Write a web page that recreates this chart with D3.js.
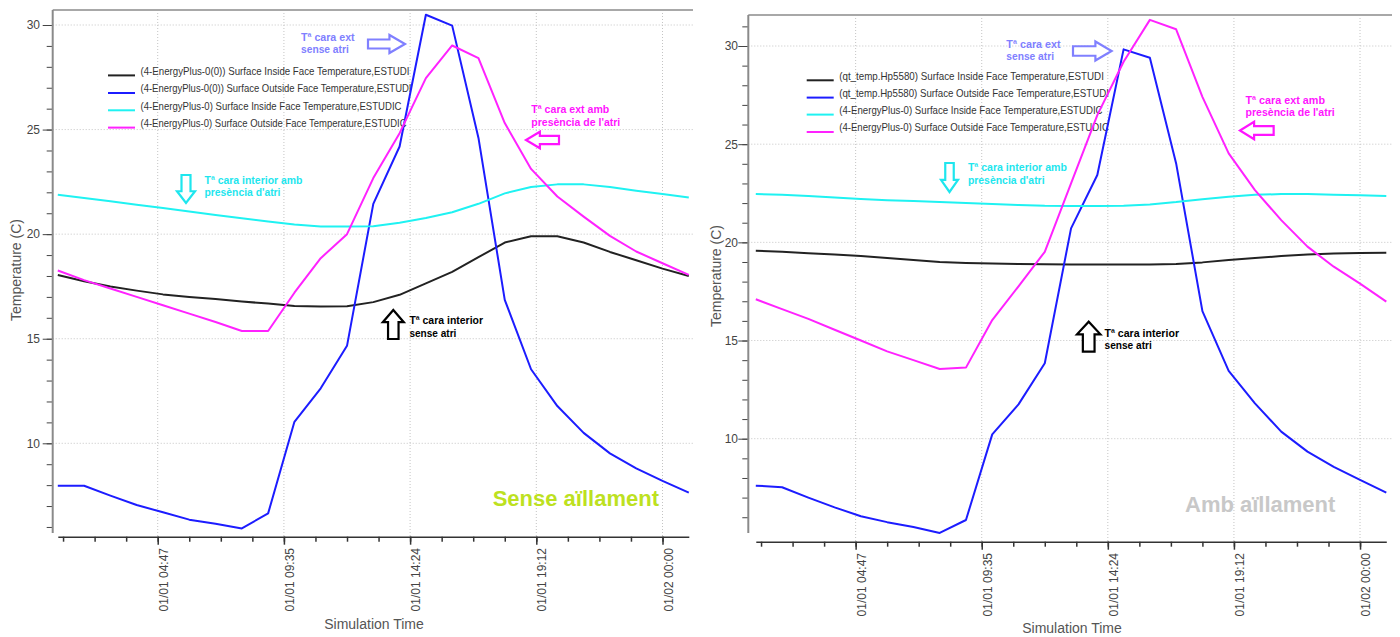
<html>
<head>
<meta charset="utf-8">
<style>
  body { margin: 0; background: #fff; }
  text { font-family: "Liberation Sans", Arial, sans-serif; }
</style>
</head>
<body>
<svg id="mainSvg" width="1400" height="637"></svg>
<script src="https://d3js.org/d3.v7.min.js"></script>
<script>
// hourly time stamps (hours since 01/01 00:00)
const hours = [1, 2, 3, 4, 5, 6, 7, 8, 9, 10, 11, 12, 13, 14, 15, 16, 17, 18, 19, 20, 21, 22, 23, 24, 25]

// left chart: Sense aillament
const leftInsideNoAtri = [18.05, 17.75, 17.5, 17.3, 17.12, 17.0, 16.9, 16.78, 16.68, 16.56, 16.54, 16.55, 16.75, 17.1, 17.65, 18.2, 18.9, 19.6, 19.9, 19.9, 19.6, 19.15, 18.75, 18.35, 18.0]
const leftOutsideNoAtri = [7.97, 7.97, 7.5, 7.05, 6.7, 6.35, 6.15, 5.93, 6.65, 11.03, 12.63, 14.66, 21.45, 24.19, 30.49, 29.97, 24.6, 16.86, 13.54, 11.78, 10.5, 9.52, 8.8, 8.2, 7.64]
const leftInsideAtri = [21.88, 21.73, 21.57, 21.41, 21.25, 21.08, 20.92, 20.76, 20.6, 20.46, 20.37, 20.36, 20.38, 20.55, 20.77, 21.05, 21.45, 21.95, 22.25, 22.38, 22.38, 22.25, 22.08, 21.92, 21.75]
const leftOutsideAtri = [18.26, 17.8, 17.4, 17.0, 16.6, 16.2, 15.8, 15.37, 15.37, 17.2, 18.85, 20.0, 22.68, 24.83, 27.46, 29.02, 28.42, 25.31, 23.12, 21.8, 20.84, 19.92, 19.17, 18.61, 18.05]

// right chart: Amb aillament
const rightInsideNoAtri = [19.57, 19.52, 19.45, 19.38, 19.3, 19.2, 19.1, 19.0, 18.95, 18.92, 18.9, 18.88, 18.87, 18.87, 18.87, 18.87, 18.9, 18.98, 19.1, 19.2, 19.3, 19.38, 19.43, 19.46, 19.47]
const rightOutsideNoAtri = [7.61, 7.53, 7.0, 6.5, 6.05, 5.75, 5.5, 5.2, 5.86, 10.22, 11.75, 13.84, 20.71, 23.43, 29.83, 29.4, 24.02, 16.5, 13.45, 11.8, 10.36, 9.34, 8.57, 7.9, 7.25]
const rightInsideAtri = [22.46, 22.42, 22.36, 22.28, 22.21, 22.15, 22.1, 22.05, 22.0, 21.95, 21.9, 21.86, 21.85, 21.85, 21.86, 21.93, 22.05, 22.2, 22.32, 22.42, 22.46, 22.46, 22.43, 22.4, 22.36]
const rightOutsideAtri = [17.1, 16.6, 16.1, 15.55, 15.0, 14.45, 14.0, 13.55, 13.62, 16.04, 17.76, 19.52, 23.0, 26.48, 29.2, 31.33, 30.85, 27.41, 24.53, 22.66, 21.13, 19.78, 18.76, 17.9, 16.98]

// axis ticks
const xMajorHours = [4.8, 9.6, 14.4, 19.2, 24]
const xMajorLabels = ['01/01 04:47', '01/01 09:35', '01/01 14:24', '01/01 19:12', '01/02 00:00']
const xMinorHours = [1.2, 2.4, 3.6, 4.8, 6, 7.2, 8.4, 9.6, 10.8, 12, 13.2, 14.4, 15.6, 16.8, 18, 19.2, 20.4, 21.6, 22.8, 24]
const yMajor = [10, 15, 20, 25, 30]

const leftLegend = [
  '(4-EnergyPlus-0(0)) Surface Inside Face Temperature,ESTUDI',
  '(4-EnergyPlus-0(0)) Surface Outside Face Temperature,ESTUDI',
  '(4-EnergyPlus-0) Surface Inside Face Temperature,ESTUDIC',
  '(4-EnergyPlus-0) Surface Outside Face Temperature,ESTUDIC'
]
const rightLegend = [
  '(qt_temp.Hp5580) Surface Inside Face Temperature,ESTUDI',
  '(qt_temp.Hp5580) Surface Outside Face Temperature,ESTUDI',
  '(4-EnergyPlus-0) Surface Inside Face Temperature,ESTUDIC',
  '(4-EnergyPlus-0) Surface Outside Face Temperature,ESTUDIC'
]
const seriesColors = ['#222222', '#1c1cff', '#1ff2f2', '#ff22ff']

const svg = d3.select('#mainSvg')

const panels = [
  {
    series: [leftInsideNoAtri, leftOutsideNoAtri, leftInsideAtri, leftOutsideAtri],
    legend: leftLegend,
    xL: 57.8, xR: 688.8, axisX: 52.7, right: 693, top: 10, axisY: 536.7, yAxisBottom: 533,
    y10: 443.3, y30: 25, yMinor: d3.range(6, 31), labelPad: 12.7,
    yTitleX: 16, yTitleY: 270, xTitleX: 374, xTitleY: 629,
    legendX: 108, legendRows: [74.6, 92.2, 109.5, 126.8], legendWidths: [269, 271, 261, 266],
    title: 'Sense aïllament', titleX: 492.7, titleY: 506, titleColor: '#bde11f',
    notes: [
      { lines: ['Tª cara ext', 'sense atri'], x: 301, y: [40.7, 53], w: [53.6, 47.8], color: '#8080ff',
        arrow: { cx: 386.5, cy: 44, len: 37, h: 18, rot: 0 } },
      { lines: ['Tª cara ext amb', 'presència de l\'atri'], x: 531.3, y: [113, 125.7], w: [78, 89], color: '#ff14ff',
        arrow: { cx: 542.5, cy: 140, len: 33, h: 16.5, rot: 180 } },
      { lines: ['Tª cara interior amb', 'presència d\'atri'], x: 204.5, y: [183.7, 196.4], w: [98, 76], color: '#1ee6ee',
        arrow: { cx: 186, cy: 189, len: 28, h: 18, rot: 90 } },
      { lines: ['Tª cara interior', 'sense atri'], x: 409.4, y: [324.4, 337], w: [73.6, 47], color: '#000',
        arrow: { cx: 393.3, cy: 324.5, len: 29, h: 21, rot: -90 } }
    ]
  },
  {
    series: [rightInsideNoAtri, rightOutsideNoAtri, rightInsideAtri, rightOutsideAtri],
    legend: rightLegend,
    xL: 755.8, xR: 1386.3, axisX: 748.3, right: 1392, top: 15, axisY: 541.7, yAxisBottom: 533,
    y10: 438.7, y30: 46, yMinor: d3.range(6, 32), labelPad: 10.3,
    yTitleX: 716, yTitleY: 276, xTitleX: 1072, xTitleY: 633,
    legendX: 806.7, legendRows: [79.5, 96.8, 113.8, 131.2], legendWidths: [264.7, 269.7, 263.4, 269.7],
    title: 'Amb aïllament', titleX: 1185, titleY: 512, titleColor: '#c8c8c8',
    notes: [
      { lines: ['Tª cara ext', 'sense atri'], x: 1006.3, y: [47.7, 60.4], w: [54.4, 47.7], color: '#8080ff',
        arrow: { cx: 1092.3, cy: 51, len: 38.6, h: 19, rot: 0 } },
      { lines: ['Tª cara ext amb', 'presència de l\'atri'], x: 1245.5, y: [103.7, 116.4], w: [79.5, 89.3], color: '#ff14ff',
        arrow: { cx: 1256.8, cy: 130.5, len: 33.7, h: 17.6, rot: 180 } },
      { lines: ['Tª cara interior amb', 'presència d\'atri'], x: 967.9, y: [171.4, 184], w: [99, 76.7], color: '#1ee6ee',
        arrow: { cx: 949.5, cy: 177.5, len: 29, h: 17, rot: 90 } },
      { lines: ['Tª cara interior', 'sense atri'], x: 1104.5, y: [337, 349.4], w: [74.5, 47.3], color: '#000',
        arrow: { cx: 1088.7, cy: 336.7, len: 30, h: 23.4, rot: -90 } }
    ]
  }
]

function arrowPoints(len, h) {
  const s = h * 0.5, hl = len * 0.42
  return [[-len / 2, -s / 2], [len / 2 - hl, -s / 2], [len / 2 - hl, -h / 2], [len / 2, 0],
          [len / 2 - hl, h / 2], [len / 2 - hl, s / 2], [-len / 2, s / 2]]
}

panels.forEach(p => {
  const g = svg.append('g')
  const x = d3.scaleLinear().domain([1, 25]).range([p.xL, p.xR])
  const y = d3.scaleLinear().domain([10, 30]).range([p.y10, p.y30])

  // grid
  g.append('g').selectAll('line').data(yMajor).join('line')
    .attr('x1', p.axisX).attr('x2', p.right)
    .attr('y1', d => y(d)).attr('y2', d => y(d))
    .attr('stroke', '#c4c4c4').attr('stroke-dasharray', '1,2')
  g.append('g').selectAll('line').data(xMajorHours).join('line')
    .attr('x1', d => x(d)).attr('x2', d => x(d))
    .attr('y1', p.top).attr('y2', p.axisY)
    .attr('stroke', '#c4c4c4').attr('stroke-dasharray', '1,2')

  // top frame
  g.append('line').attr('x1', p.axisX).attr('x2', p.right).attr('y1', p.top).attr('y2', p.top)
    .attr('stroke', '#a8a8a8').attr('stroke-width', 2)

  // y axis
  g.append('g').attr('transform', `translate(${p.axisX},0)`)
    .call(d3.axisLeft(y).tickValues(p.yMinor).tickSize(6).tickFormat(''))
    .call(a => a.select('.domain').remove())
    .call(a => a.selectAll('line').attr('stroke', '#444'))
  g.append('g').attr('transform', `translate(${p.axisX},0)`)
    .call(d3.axisLeft(y).tickValues(yMajor).tickSize(10).tickPadding(p.labelPad - 10).tickFormat(d3.format('d')))
    .call(a => a.select('.domain').remove())
    .call(a => a.selectAll('line').attr('stroke', '#444'))
    .call(a => a.selectAll('text').attr('font-size', 12).attr('fill', '#444')
      .attr('font-family', '"Liberation Sans", Arial, sans-serif'))
  g.append('line').attr('x1', p.axisX).attr('x2', p.axisX).attr('y1', p.top).attr('y2', p.yAxisBottom)
    .attr('stroke', '#8a8a8a').attr('stroke-width', 2)

  // x axis
  g.append('g').attr('transform', `translate(0,${p.axisY})`)
    .call(d3.axisBottom(x).tickValues(xMinorHours).tickSize(5).tickSizeOuter(0).tickFormat(''))
    .call(a => a.select('.domain').attr('stroke', '#333').attr('stroke-width', 1.5))
    .call(a => a.selectAll('line').attr('stroke', '#333').attr('stroke-width', 1.5))
  g.append('g').attr('transform', `translate(0,${p.axisY})`)
    .call(d3.axisBottom(x).tickValues(xMajorHours).tickSize(8)
      .tickFormat((d, i) => xMajorLabels[i]))
    .call(a => a.select('.domain').remove())
    .call(a => a.selectAll('line').attr('stroke', '#333').attr('stroke-width', 1.5))
    .call(a => a.selectAll('text')
      .attr('transform', 'rotate(-90)')
      .attr('text-anchor', 'end')
      .attr('x', -11.3).attr('y', 9.5).attr('dy', 0)
      .attr('font-size', 12).attr('fill', '#444')
      .attr('font-family', '"Liberation Sans", Arial, sans-serif'))

  // axis titles
  g.append('text').attr('x', p.xTitleX).attr('y', p.xTitleY).attr('text-anchor', 'middle')
    .attr('font-size', 14).attr('fill', '#555').text('Simulation Time')
  g.append('text').attr('transform', `translate(${p.yTitleX},${p.yTitleY}) rotate(-90)`)
    .attr('text-anchor', 'middle').attr('dy', '0.35em')
    .attr('font-size', 14).attr('fill', '#555').text('Temperature (C)')

  // legend
  const leg = g.append('g')
  p.legend.forEach((name, i) => {
    leg.append('line').attr('x1', p.legendX).attr('x2', p.legendX + 27)
      .attr('y1', p.legendRows[i] + 0.8).attr('y2', p.legendRows[i] + 0.8)
      .attr('stroke', seriesColors[i]).attr('stroke-width', 2)
    leg.append('text').attr('x', p.legendX + 32.5).attr('y', p.legendRows[i])
      .attr('font-family', '"DejaVu Sans", sans-serif').attr('font-size', 10.5).attr('fill', '#333')
      .attr('textLength', p.legendWidths[i]).attr('lengthAdjust', 'spacingAndGlyphs')
      .text(name)
  })

  // series lines
  const line = d3.line().x((d, i) => x(hours[i])).y(d => y(d))
  p.series.forEach((s, i) => {
    g.append('path').datum(s).attr('d', line).attr('fill', 'none')
      .attr('stroke', seriesColors[i]).attr('stroke-width', 2)
      .attr('stroke-linejoin', 'round')
  })

  // annotations
  p.notes.forEach(n => {
    n.lines.forEach((t, j) => {
      g.append('text').attr('x', n.x).attr('y', n.y[j])
        .attr('font-family', '"Liberation Sans Narrow", "DejaVu Sans Condensed", sans-serif')
        .attr('font-weight', 'bold').attr('font-size', 11.5).attr('fill', n.color)
        .attr('textLength', n.w[j]).attr('lengthAdjust', 'spacingAndGlyphs')
        .text(t)
    })
    const a = n.arrow
    g.append('polygon')
      .attr('points', arrowPoints(a.len, a.h).map(q => q.join(',')).join(' '))
      .attr('transform', `translate(${a.cx},${a.cy}) rotate(${a.rot})`)
      .attr('fill', '#fff').attr('stroke', n.color).attr('stroke-width', 2.2)
      .attr('stroke-linejoin', 'miter')
  })

  // panel label
  g.append('text').attr('x', p.titleX).attr('y', p.titleY)
    .attr('font-size', 22).attr('font-weight', 'bold').attr('fill', p.titleColor)
    .text(p.title)
})
</script>
</body>
</html>
